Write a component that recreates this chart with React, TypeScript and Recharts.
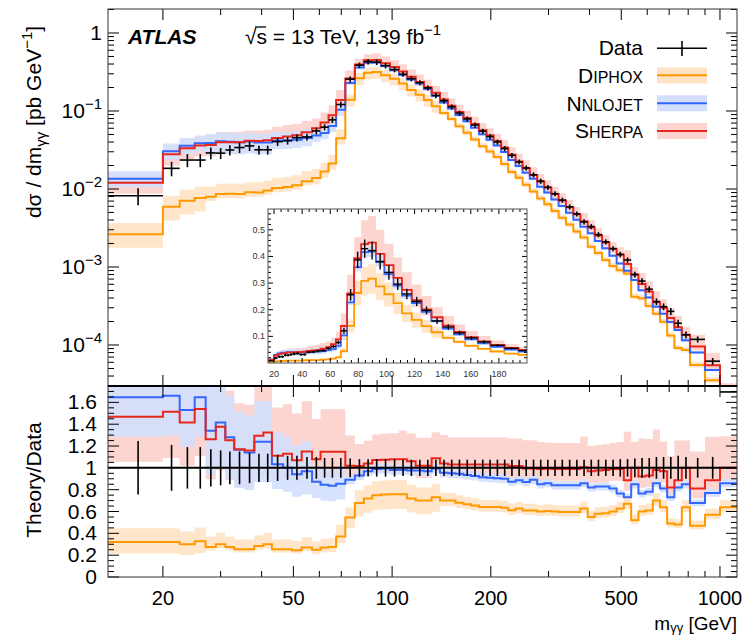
import React from 'react';
import { ComposedChart, Line, Area, Scatter, XAxis, YAxis, ErrorBar, ReferenceLine } from 'recharts';

const FONT = '"Liberation Sans", Arial, Helvetica, sans-serif';

// ---------------- data ----------------
const binEdges = [13.6, 20, 22.5, 25, 27, 29, 31, 33, 35.5, 38, 40.5, 43, 46.5, 49.5, 53, 57, 60.5, 64, 67.5, 72, 77, 82, 87, 92.5, 98.5, 105, 111, 118, 125, 132, 140, 148, 156, 165, 174, 184, 194, 204, 215, 226, 238, 250, 263, 277, 291, 306, 322, 339, 357, 375, 395, 415, 437, 460, 484, 509, 536, 564, 593, 624, 656, 690, 726, 765, 810, 900, 1000, 1127];

const dataXsec = [
  0.0082, 0.0184, 0.0235, 0.0235, 0.029, 0.0288, 0.0316, 0.034, 0.0357, 0.0318,
  0.0318, 0.0405, 0.0417, 0.0455, 0.0465, 0.0555, 0.062, 0.077, 0.121, 0.256,
  0.387, 0.429, 0.422, 0.381, 0.34, 0.296, 0.259, 0.231, 0.1975, 0.158,
  0.135, 0.113, 0.094, 0.079, 0.066, 0.055, 0.047, 0.040, 0.033, 0.027,
  0.0222, 0.0186, 0.0152, 0.0126, 0.0105, 0.0087, 0.0072, 0.0059, 0.0048, 0.0038,
  0.0033, 0.0026, 0.0021, 0.00172, 0.00145, 0.00123, 0.0008, 0.00066, 0.00052, 0.00036,
  0.00031, 0.00027, 0.00019, 0.000135, 0.000118, 0.000062, 0.000025,
];

const dataRelErr = [
  0.245, 0.21, 0.19, 0.19, 0.17, 0.16, 0.15, 0.15, 0.14, 0.13,
  0.13, 0.12, 0.11, 0.11, 0.10, 0.10, 0.09, 0.09, 0.09, 0.085,
  0.08, 0.08, 0.08, 0.08, 0.08, 0.075, 0.075, 0.075, 0.075, 0.075,
  0.075, 0.075, 0.075, 0.075, 0.075, 0.075, 0.075, 0.075, 0.075, 0.075,
  0.075, 0.075, 0.075, 0.075, 0.075, 0.075, 0.075, 0.075, 0.075, 0.075,
  0.075, 0.075, 0.075, 0.075, 0.08, 0.08, 0.085, 0.09, 0.09, 0.10,
  0.10, 0.10, 0.11, 0.10, 0.09, 0.10, 0,
];

// Theory / Data ratios
const diphoxRatio = [
  0.321, 0.321, 0.30, 0.327, 0.275, 0.30, 0.275, 0.254, 0.254, 0.284,
  0.30, 0.254, 0.254, 0.245, 0.27, 0.25, 0.27, 0.275, 0.37, 0.545,
  0.679, 0.719, 0.75, 0.755, 0.759, 0.759, 0.72, 0.70, 0.70, 0.73,
  0.70, 0.70, 0.68, 0.667, 0.655, 0.642, 0.642, 0.642, 0.635, 0.612,
  0.627, 0.61, 0.61, 0.60, 0.605, 0.60, 0.595, 0.595, 0.595, 0.627,
  0.55, 0.58, 0.585, 0.60, 0.627, 0.672, 0.52, 0.60, 0.61, 0.70,
  0.64, 0.49, 0.48, 0.64, 0.47, 0.57, 0.64,
];
const nnlojetRatio = [
  1.646, 1.661, 1.53, 1.646, 1.339, 1.416, 1.28, 1.165, 1.14, 1.24,
  1.24, 1.034, 1.0, 0.942, 0.97, 0.872, 0.845, 0.835, 0.855, 0.89,
  0.93, 0.97, 0.99, 0.994, 0.98, 0.98, 0.975, 0.975, 0.97, 0.994,
  0.955, 0.95, 0.945, 0.935, 0.925, 0.915, 0.91, 0.905, 0.90, 0.872,
  0.887, 0.87, 0.89, 0.85, 0.86, 0.84, 0.84, 0.84, 0.84, 0.86,
  0.82, 0.83, 0.83, 0.81, 0.765, 0.73, 0.85, 0.765, 0.78, 0.86,
  0.81, 0.73, 0.82, 0.85, 0.679, 0.77, 0.86,
];
const sherpaRatio = [
  1.468, 1.514, 1.416, 1.539, 1.263, 1.376, 1.254, 1.17, 1.16, 1.294,
  1.325, 1.11, 1.13, 1.07, 1.15, 1.08, 1.147, 1.147, 1.147, 1.02,
  1.016, 1.04, 1.071, 1.075, 1.08, 1.08, 1.06, 1.02, 1.02, 1.087,
  1.04, 1.03, 1.03, 1.03, 1.03, 1.03, 1.03, 1.03, 1.03, 1.016,
  1.016, 0.994, 0.994, 0.99, 0.994, 0.99, 0.99, 0.99, 0.99, 1.005,
  0.97, 0.975, 0.98, 0.99, 0.99, 0.887, 1.0, 0.92, 0.93, 0.98,
  0.97, 0.82, 0.887, 1.0, 0.81, 0.887, 1.0,
];

// relative theory uncertainties (up / down)
const diphoxUp = [
  0.39, 0.39, 0.39, 0.39, 0.35, 0.35, 0.35, 0.35, 0.35, 0.35,
  0.35, 0.35, 0.35, 0.35, 0.35, 0.30, 0.30, 0.30, 0.30, 0.17,
  0.17, 0.17, 0.17, 0.17, 0.17, 0.17, 0.17, 0.17, 0.17, 0.17,
  0.10, 0.10, 0.10, 0.10, 0.10, 0.10, 0.10, 0.10, 0.10, 0.10,
  0.10, 0.10, 0.10, 0.10, 0.10, 0.10, 0.10, 0.10, 0.10, 0.10,
  0.10, 0.10, 0.10, 0.10, 0.10, 0.10, 0.10, 0.10, 0.10, 0.10,
  0.10, 0.10, 0.10, 0.10, 0.10, 0.10, 0.10,
];
const diphoxDown = [
  0.33, 0.33, 0.33, 0.33, 0.12, 0.12, 0.12, 0.12, 0.12, 0.12,
  0.12, 0.12, 0.12, 0.12, 0.12, 0.17, 0.17, 0.17, 0.17, 0.18,
  0.18, 0.18, 0.18, 0.18, 0.18, 0.18, 0.18, 0.18, 0.18, 0.18,
  0.07, 0.07, 0.07, 0.07, 0.07, 0.07, 0.07, 0.07, 0.07, 0.07,
  0.07, 0.07, 0.07, 0.07, 0.07, 0.07, 0.07, 0.07, 0.07, 0.07,
  0.07, 0.07, 0.07, 0.07, 0.07, 0.07, 0.07, 0.07, 0.07, 0.07,
  0.07, 0.07, 0.07, 0.07, 0.07, 0.07, 0.07,
];
const nnlojetUp = [
  0.25, 0.25, 0.25, 0.25, 0.30, 0.30, 0.30, 0.30, 0.30, 0.30,
  0.30, 0.28, 0.28, 0.28, 0.28, 0.17, 0.17, 0.17, 0.17, 0.045,
  0.045, 0.045, 0.045, 0.045, 0.045, 0.045, 0.045, 0.045, 0.045, 0.045,
  0.045, 0.045, 0.045, 0.045, 0.045, 0.045, 0.045, 0.045, 0.045, 0.045,
  0.045, 0.045, 0.045, 0.045, 0.045, 0.045, 0.045, 0.045, 0.045, 0.045,
  0.045, 0.045, 0.045, 0.045, 0.045, 0.045, 0.045, 0.045, 0.045, 0.045,
  0.045, 0.045, 0.045, 0.045, 0.045, 0.045, 0.045,
];
const nnlojetDown = [
  0.22, 0.22, 0.22, 0.22, 0.30, 0.30, 0.30, 0.30, 0.30, 0.30,
  0.30, 0.22, 0.22, 0.22, 0.22, 0.17, 0.17, 0.17, 0.17, 0.045,
  0.045, 0.045, 0.045, 0.045, 0.045, 0.045, 0.045, 0.045, 0.045, 0.045,
  0.045, 0.045, 0.045, 0.045, 0.045, 0.045, 0.045, 0.045, 0.045, 0.045,
  0.045, 0.045, 0.045, 0.045, 0.045, 0.045, 0.045, 0.045, 0.045, 0.045,
  0.045, 0.045, 0.045, 0.045, 0.045, 0.045, 0.045, 0.045, 0.045, 0.045,
  0.045, 0.045, 0.045, 0.045, 0.045, 0.045, 0.045,
];
const sherpaUp = [
  0.30, 0.30, 0.30, 0.30, 0.36, 0.36, 0.36, 0.36, 0.36, 0.36,
  0.36, 0.40, 0.40, 0.40, 0.40, 0.34, 0.34, 0.34, 0.34, 0.27,
  0.20, 0.20, 0.22, 0.22, 0.22, 0.24, 0.24, 0.25, 0.25, 0.22,
  0.25, 0.24, 0.24, 0.24, 0.24, 0.24, 0.24, 0.24, 0.24, 0.25,
  0.25, 0.26, 0.26, 0.25, 0.24, 0.24, 0.24, 0.24, 0.24, 0.28,
  0.24, 0.24, 0.24, 0.24, 0.25, 0.50, 0.24, 0.38, 0.36, 0.38,
  0.28, 0.35, 0.41, 0.25, 0.42, 0.45, 0.29,
];
const sherpaDown = [
  0.28, 0.28, 0.28, 0.28, 0.29, 0.29, 0.29, 0.29, 0.29, 0.29,
  0.29, 0.20, 0.20, 0.20, 0.20, 0.20, 0.20, 0.20, 0.20, 0.11,
  0.11, 0.11, 0.11, 0.11, 0.11, 0.11, 0.11, 0.11, 0.11, 0.11,
  0.11, 0.11, 0.11, 0.11, 0.11, 0.11, 0.11, 0.11, 0.11, 0.11,
  0.11, 0.11, 0.11, 0.11, 0.11, 0.11, 0.11, 0.11, 0.11, 0.11,
  0.11, 0.11, 0.11, 0.11, 0.11, 0.11, 0.11, 0.11, 0.11, 0.11,
  0.11, 0.11, 0.11, 0.11, 0.11, 0.11, 0.11,
];

// ---------------- ticks ----------------
const xMajorTicks = [20, 50, 100, 200, 500, 1000];
const xAllTicks = [20, 30, 40, 50, 60, 70, 80, 90, 100, 200, 300, 400, 500, 600, 700, 800, 900, 1000];
const yMainMajorTicks = [0.0001, 0.001, 0.01, 0.1, 1];
const yMainAllTicks = [
  0.00003, 0.00004, 0.00005, 0.00006, 0.00007, 0.00008, 0.00009,
  0.0001, 0.0002, 0.0003, 0.0004, 0.0005, 0.0006, 0.0007, 0.0008, 0.0009,
  0.001, 0.002, 0.003, 0.004, 0.005, 0.006, 0.007, 0.008, 0.009,
  0.01, 0.02, 0.03, 0.04, 0.05, 0.06, 0.07, 0.08, 0.09,
  0.1, 0.2, 0.3, 0.4, 0.5, 0.6, 0.7, 0.8, 0.9,
  1, 2,
];
const yRatioMajorTicks = [0, 0.2, 0.4, 0.6, 0.8, 1, 1.2, 1.4, 1.6];
const yRatioAllTicks = [0, 0.05, 0.1, 0.15, 0.2, 0.25, 0.3, 0.35, 0.4, 0.45, 0.5, 0.55, 0.6, 0.65, 0.7, 0.75, 0.8, 0.85, 0.9, 0.95, 1, 1.05, 1.1, 1.15, 1.2, 1.25, 1.3, 1.35, 1.4, 1.45, 1.5, 1.55, 1.6, 1.65, 1.7];
const insetXMajorTicks = [20, 40, 60, 80, 100, 120, 140, 160, 180];
const insetXAllTicks = [20, 25, 30, 35, 40, 45, 50, 55, 60, 65, 70, 75, 80, 85, 90, 95, 100, 105, 110, 115, 120, 125, 130, 135, 140, 145, 150, 155, 160, 165, 170, 175, 180, 185, 190, 195];
const insetYMajorTicks = [0.1, 0.2, 0.3, 0.4, 0.5];
const insetYAllTicks = [0.02, 0.04, 0.06, 0.08, 0.1, 0.12, 0.14, 0.16, 0.18, 0.2, 0.22, 0.24, 0.26, 0.28, 0.3, 0.32, 0.34, 0.36, 0.38, 0.4, 0.42, 0.44, 0.46, 0.48, 0.5, 0.52, 0.54, 0.56];

// ---------------- colours / layout ----------------
const C_ORANGE = '#ff9900';
const C_BLUE = '#3366ff';
const C_RED = '#e8261c';
const B_ORANGE = '#ffe3c4';
const B_BLUE = '#d3dffc';
const B_RED = '#fcd4d0';

const W = 742;
const PL = 108, PR = 737;
const MAIN_T = 9, MAIN_B = 386;
const RAT_T = 386, RAT_B = 577;
const INS_L = 268, INS_R = 527, INS_T = 209, INS_B = 363;
const INS_XMAX = 200;

// ---------------- derived tables ----------------
const theories = [
  { key: 'sh', ratio: sherpaRatio, up: sherpaUp, dn: sherpaDown },
  { key: 'nn', ratio: nnlojetRatio, up: nnlojetUp, dn: nnlojetDown },
  { key: 'dp', ratio: diphoxRatio, up: diphoxUp, dn: diphoxDown },
];
const nBins = dataXsec.length;
const stepRows = binEdges.map((edge, i) => {
  const b = Math.min(i, nBins - 1);
  const d = dataXsec[b];
  const row: any = { x: edge };
  theories.forEach((t) => {
    const r = t.ratio[b];
    row[t.key + 'R'] = r;
    row[t.key + 'RB'] = [r * (1 - t.dn[b]), r * (1 + t.up[b])];
    row[t.key] = d * r;
    row[t.key + 'B'] = [d * r * (1 - t.dn[b]), d * r * (1 + t.up[b])];
  });
  return row;
});
const dataPoints = dataXsec.map((v, b) => {
  const lo = binEdges[b];
  const hi = binEdges[b + 1];
  const c = (lo + hi) / 2;
  return { x: c, y: v, lo, hi, ex: [c - lo, hi - c], ey: v * dataRelErr[b], r: 1, er: dataRelErr[b] };
});
// rows / points that fall inside the inset's mass window
const insetRows = stepRows.filter((r, i) => i === 0 || binEdges[i - 1] < INS_XMAX);
const insetPoints = dataPoints
  .filter((p) => p.lo < INS_XMAX)
  .map((p) => ({ ...p, ex: [Math.min(p.x - p.lo, p.x - 15.7), Math.min(p.hi - p.x, INS_XMAX - p.x)] }));

// ---------------- tick renderers ----------------
const makeXTick = (top: number, bottom: number, majors: number[], majorLen: number, minorLen: number, label: null | { y: number; size: number; fill: string }) =>
  (props: any) => {
    const { x, payload } = props;
    const v = payload.value;
    const major = majors.includes(v);
    const len = major ? majorLen : minorLen;
    return (
      <g>
        <line x1={x} x2={x} y1={bottom} y2={bottom - len} stroke="#000" strokeWidth={1} />
        <line x1={x} x2={x} y1={top} y2={top + len} stroke="#000" strokeWidth={1} />
        {label && major ? (
          <text x={x} y={label.y} textAnchor="middle" fontSize={label.size} fontFamily={FONT} fill={label.fill}>{v}</text>
        ) : null}
      </g>
    );
  };

const makeYTick = (left: number, right: number, majors: number[], majorLen: number, minorLen: number, labelFn: (v: number, y: number) => any) =>
  (props: any) => {
    const { y, payload } = props;
    const v = payload.value;
    const major = majors.includes(v);
    const len = major ? majorLen : minorLen;
    return (
      <g>
        <line x1={left} x2={left + len} y1={y} y2={y} stroke="#000" strokeWidth={1} />
        <line x1={right} x2={right - len} y1={y} y2={y} stroke="#000" strokeWidth={1} />
        {major ? labelFn(v, y) : null}
      </g>
    );
  };

const mainYLabel = (v: number, y: number) => {
  if (v === 1) {
    return <text x={PL - 6} y={y + 7} textAnchor="end" fontSize={21} fontFamily={FONT}>1</text>;
  }
  const e = Math.round(Math.log10(v));
  return (
    <text x={PL - 6} y={y + 7} textAnchor="end" fontSize={21} fontFamily={FONT}>
      10<tspan dy={-9} fontSize={15}>{'\u2212' + Math.abs(e)}</tspan>
    </text>
  );
};
const ratioYLabel = (v: number, y: number) => (
  <text x={PL - 11} y={y + 7} textAnchor="end" fontSize={21} fontFamily={FONT}>{String(v)}</text>
);
const insetYLabel = (v: number, y: number) => (
  <text x={INS_L - 3} y={y + 3} textAnchor="end" fontSize={9} fontFamily={FONT} fill="#333">{String(v)}</text>
);

const hidden = () => <g />;

// ---------------- series builders ----------------
const bands = (suffix: string) => [
  <Area key={'shb' + suffix} dataKey={'sh' + suffix} type="stepAfter" fill={B_RED} fillOpacity={1} stroke="none" isAnimationActive={false} />,
  <Area key={'nnb' + suffix} dataKey={'nn' + suffix} type="stepAfter" fill={B_BLUE} fillOpacity={0.9} stroke="none" isAnimationActive={false} />,
  <Area key={'dpb' + suffix} dataKey={'dp' + suffix} type="stepAfter" fill={B_ORANGE} fillOpacity={0.9} stroke="none" isAnimationActive={false} />,
];
const lines = (suffix: string, w: number) => [
  <Line key={'dpl' + suffix} dataKey={'dp' + suffix} type="stepAfter" stroke={C_ORANGE} strokeWidth={w} dot={false} isAnimationActive={false} />,
  <Line key={'nnl' + suffix} dataKey={'nn' + suffix} type="stepAfter" stroke={C_BLUE} strokeWidth={w} dot={false} isAnimationActive={false} />,
  <Line key={'shl' + suffix} dataKey={'sh' + suffix} type="stepAfter" stroke={C_RED} strokeWidth={w} dot={false} isAnimationActive={false} />,
];

export default function App() {
  return (
    <div style={{ position: 'absolute', left: 0, top: 0, width: W, height: 636, background: '#fff', fontFamily: FONT }}>
      {/* main panel */}
      <div style={{ position: 'absolute', left: 0, top: 0 }}>
        <ComposedChart width={W} height={MAIN_B + 20} data={stepRows} margin={{ top: MAIN_T, right: W - PR, bottom: 0, left: 0 }}>
          <XAxis dataKey="x" type="number" scale="log" domain={[13.6, 1127]} allowDataOverflow ticks={xAllTicks} interval={0}
            tick={makeXTick(MAIN_T, MAIN_B, xMajorTicks, 11, 6, null)} tickLine={false} axisLine={false} height={20} />
          <YAxis type="number" scale="log" domain={[2.98e-5, 2.03]} allowDataOverflow ticks={yMainAllTicks} interval={0}
            tick={makeYTick(PL, PR, yMainMajorTicks, 11, 6, mainYLabel)} tickLine={false} axisLine={false} width={PL} />
          {bands('B')}
          {lines('', 2)}
          <Scatter data={dataPoints} dataKey="y" shape={hidden} isAnimationActive={false}>
            <ErrorBar dataKey="ex" direction="x" width={0} stroke="#000" strokeWidth={1.6} isAnimationActive={false} />
            <ErrorBar dataKey="ey" direction="y" width={0} stroke="#000" strokeWidth={1.6} isAnimationActive={false} />
          </Scatter>
        </ComposedChart>
      </div>

      {/* ratio panel */}
      <div style={{ position: 'absolute', left: 0, top: 0 }}>
        <ComposedChart width={W} height={636} data={stepRows} margin={{ top: RAT_T, right: W - PR, bottom: 636 - RAT_B - 40, left: 0 }}>
          <XAxis dataKey="x" type="number" scale="log" domain={[13.6, 1127]} allowDataOverflow ticks={xAllTicks} interval={0}
            tick={makeXTick(RAT_T, RAT_B, xMajorTicks, 11, 6, { y: 605, size: 20, fill: '#000' })} tickLine={false} axisLine={false} height={40} />
          <YAxis type="number" domain={[0, 1.75]} allowDataOverflow ticks={yRatioAllTicks} interval={0}
            tick={makeYTick(PL, PR, yRatioMajorTicks, 11, 6, ratioYLabel)} tickLine={false} axisLine={false} width={PL} />
          {bands('RB')}
          {lines('R', 2)}
          <ReferenceLine y={1} stroke="#000" strokeWidth={2} ifOverflow="hidden" />
          <Scatter data={dataPoints} dataKey="r" shape={hidden} isAnimationActive={false}>
            <ErrorBar dataKey="er" direction="y" width={0} stroke="#000" strokeWidth={1.6} isAnimationActive={false} />
          </Scatter>
        </ComposedChart>
      </div>

      {/* inset background */}
      <div style={{ position: 'absolute', left: INS_L, top: INS_T, width: INS_R - INS_L, height: INS_B - INS_T, background: '#fff' }} />

      {/* inset */}
      <div style={{ position: 'absolute', left: 0, top: 0 }}>
        <ComposedChart width={W} height={INS_B + 22} data={insetRows} margin={{ top: INS_T, right: W - INS_R, bottom: 0, left: INS_L - 20 }}>
          <XAxis dataKey="x" type="number" domain={[15.7, INS_XMAX]} allowDataOverflow ticks={insetXAllTicks} interval={0}
            tick={makeXTick(INS_T, INS_B, insetXMajorTicks, 5, 3, { y: 377, size: 9, fill: '#333' })} tickLine={false} axisLine={false} height={22} />
          <YAxis type="number" domain={[0, 0.578]} allowDataOverflow ticks={insetYAllTicks} interval={0}
            tick={makeYTick(INS_L, INS_R, insetYMajorTicks, 5, 3, insetYLabel)} tickLine={false} axisLine={false} width={20} />
          {bands('B')}
          {lines('', 1.8)}
          <Scatter data={insetPoints} dataKey="y" shape={hidden} isAnimationActive={false}>
            <ErrorBar dataKey="ex" direction="x" width={0} stroke="#000" strokeWidth={1.4} isAnimationActive={false} />
            <ErrorBar dataKey="ey" direction="y" width={0} stroke="#000" strokeWidth={1.4} isAnimationActive={false} />
          </Scatter>
        </ComposedChart>
      </div>

      {/* frames and annotations */}
      <svg width={W} height={636} style={{ position: 'absolute', left: 0, top: 0, pointerEvents: 'none' }} fontFamily={FONT}>
        <rect x={PL} y={MAIN_T} width={PR - PL} height={MAIN_B - MAIN_T} fill="none" stroke="#333" strokeWidth={1} />
        <rect x={PL} y={RAT_T} width={PR - PL} height={RAT_B - RAT_T} fill="none" stroke="#333" strokeWidth={1} />
        <line x1={PL} x2={PR} y1={RAT_T} y2={RAT_T} stroke="#000" strokeWidth={2} />
        <rect x={INS_L} y={INS_T} width={INS_R - INS_L} height={INS_B - INS_T} fill="none" stroke="#555" strokeWidth={1} />

        <text x={128} y={44} fontSize={21} fontWeight="bold" fontStyle="italic">ATLAS</text>
        <text x={245} y={44} fontSize={21}>
          {'\u221A'}s = 13 TeV, 139 fb<tspan dy={-9} fontSize={15}>{'\u22121'}</tspan>
        </text>
        <line x1={255} x2={266} y1={27} y2={27} stroke="#000" strokeWidth={1.3} />

        {/* legend */}
        <text x={643} y={55} fontSize={21} textAnchor="end">Data</text>
        <line x1={657} x2={707} y1={48.3} y2={48.3} stroke="#000" strokeWidth={1.6} />
        <line x1={682} x2={682} y1={41} y2={56} stroke="#000" strokeWidth={1.6} />

        <text x={643} y={82.7} fontSize={21} textAnchor="end">D<tspan fontSize={16}>IPHOX</tspan></text>
        <rect x={657} y={67.5} width={50} height={16} fill={B_ORANGE} />
        <line x1={657} x2={707} y1={75.3} y2={75.3} stroke={C_ORANGE} strokeWidth={2} />

        <text x={643} y={110.5} fontSize={21} textAnchor="end">N<tspan fontSize={16}>NLOJET</tspan></text>
        <rect x={657} y={95.3} width={50} height={16} fill={B_BLUE} />
        <line x1={657} x2={707} y1={103.3} y2={103.3} stroke={C_BLUE} strokeWidth={2} />

        <text x={643} y={138.3} fontSize={21} textAnchor="end">S<tspan fontSize={16}>HERPA</tspan></text>
        <rect x={657} y={123} width={50} height={16} fill={B_RED} />
        <line x1={657} x2={707} y1={131} y2={131} stroke={C_RED} strokeWidth={2} />

        {/* axis titles */}
        <text transform="translate(41,122) rotate(-90)" textAnchor="middle" fontSize={21}>
          d{'\u03C3'} / dm<tspan fontSize={15} dy={5}>{'\u03B3\u03B3'}</tspan><tspan dy={-5}> [pb GeV</tspan><tspan fontSize={15} dy={-9}>{'\u22121'}</tspan><tspan dy={9}>]</tspan>
        </text>
        <text transform="translate(41,480) rotate(-90)" textAnchor="middle" fontSize={21}>Theory/Data</text>
        <text x={737} y={630} textAnchor="end" fontSize={19}>
          m<tspan fontSize={13} dy={2}>{'\u03B3\u03B3'}</tspan><tspan dy={-2}> [GeV]</tspan>
        </text>
      </svg>
    </div>
  );
}
